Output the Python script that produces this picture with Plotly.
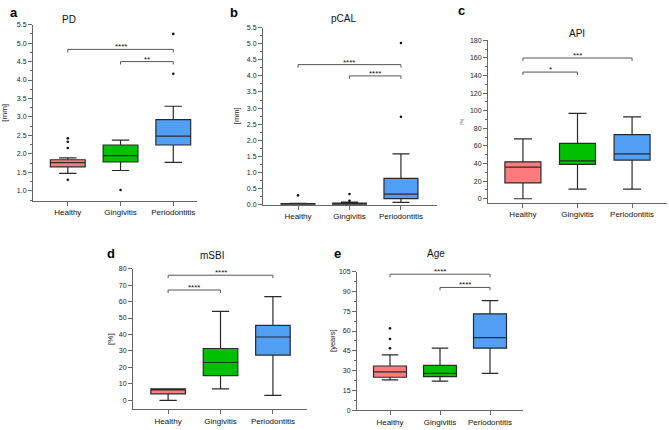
import plotly.graph_objects as go

W, H = 669, 430
CATS = ["Healthy", "Gingivitis", "Periodontitis"]
COLORS = ["#FF7C7C", "#00C000", "#519EF5"]

# Panel a: PD
PD_LOW = [1.47, 1.55, 1.77]
PD_Q1 = [1.65, 1.78, 2.24]
PD_MED = [1.76, 1.95, 2.48]
PD_Q3 = [1.84, 2.24, 2.93]
PD_HIGH = [1.89, 2.37, 3.29]
PD_OUT_X = ["Healthy", "Healthy", "Healthy", "Healthy", "Gingivitis", "Periodontitis", "Periodontitis"]
PD_OUT_Y = [2.42, 2.33, 2.16, 1.30, 1.02, 4.17, 5.25]
PD_BR = [(0, 2, 4.83, "****"), (1, 2, 4.5, "**")]

# Panel b: pCAL
CAL_LOW = [0.0, 0.0, 0.07]
CAL_Q1 = [0.0, 0.01, 0.19]
CAL_MED = [0.01, 0.02, 0.33]
CAL_Q3 = [0.03, 0.05, 0.82]
CAL_HIGH = [0.04, 0.08, 1.58]
CAL_OUT_X = ["Healthy", "Gingivitis", "Gingivitis", "Periodontitis", "Periodontitis"]
CAL_OUT_Y = [0.29, 0.33, 0.12, 2.73, 5.02]
CAL_BR = [(0, 2, 4.35, "****"), (1, 2, 4.0, "****")]

# Panel c: API
API_LOW = [0, 11, 11]
API_Q1 = [18, 39, 44]
API_MED = [36, 43, 51]
API_Q3 = [42, 63, 73]
API_HIGH = [68, 97, 93]
API_BR = [(0, 2, 160, "***"), (0, 1, 144, "*")]

# Panel d: mSBI
SBI_LOW = [0, 7, 3]
SBI_Q1 = [4, 15, 27.5]
SBI_MED = [6.9, 23, 38.5]
SBI_Q3 = [7, 31.5, 45.5]
SBI_HIGH = [7, 54, 63]
SBI_BR = [(0, 2, 76, "****"), (0, 1, 67, "****")]

# Panel e: Age
AGE_LOW = [23, 22, 28]
AGE_Q1 = [25, 25.5, 47]
AGE_MED = [29, 28, 55]
AGE_Q3 = [33.5, 34, 73]
AGE_HIGH = [42, 47, 83]
AGE_OUT_X = ["Healthy", "Healthy", "Healthy"]
AGE_OUT_Y = [47, 54, 62]
AGE_BR = [(0, 2, 103, "****"), (1, 2, 93, "****")]

FONT = "Liberation Sans, Arial, sans-serif"

panels = [
    dict(n=1, title="PD", letter="a", ylab="[mm]",
         low=PD_LOW, q1=PD_Q1, med=PD_MED, q3=PD_Q3, high=PD_HIGH,
         ox=PD_OUT_X, oy=PD_OUT_Y, br=PD_BR,
         px=(33, 197), py=(21, 200), yr=(0.73, 5.5), dtick=0.5, minor=0.25,
         fmt=".1f", title_xy=(69, 16), letter_xy=(8, 9), ylab_x=5, ylab_fs=8, xr=(-0.66, 2.45)),
    dict(n=2, title="pCAL", letter="b", ylab="[mm]",
         low=CAL_LOW, q1=CAL_Q1, med=CAL_MED, q3=CAL_Q3, high=CAL_HIGH,
         ox=CAL_OUT_X, oy=CAL_OUT_Y, br=CAL_BR,
         px=(263, 437), py=(24, 204), yr=(0, 5.5), dtick=0.5, minor=0.25,
         fmt=".1f", title_xy=(343, 15), letter_xy=(228, 9), ylab_x=236, ylab_fs=7.5, xr=(-0.68, 2.7)),
    dict(n=3, title="API", letter="c", ylab="[%]",
         low=API_LOW, q1=API_Q1, med=API_MED, q3=API_Q3, high=API_HIGH,
         ox=[], oy=[], br=API_BR,
         px=(488, 667), py=(37, 202), yr=(-4.5, 180), dtick=20, minor=10,
         fmt="d", title_xy=(577, 30), letter_xy=(456, 7), ylab_x=462, ylab_fs=4, xr=(-0.64, 2.64)),
    dict(n=4, title="mSBI", letter="d", ylab="[%]",
         low=SBI_LOW, q1=SBI_Q1, med=SBI_MED, q3=SBI_Q3, high=SBI_HIGH,
         ox=[], oy=[], br=SBI_BR,
         px=(133, 307), py=(269, 412), yr=(-5.4, 80), dtick=10, minor=None,
         fmt="d", title_xy=(212, 256), letter_xy=(105, 254), ylab_x=111, ylab_fs=8, xr=(-0.67, 2.65)),
    dict(n=5, title="Age", letter="e", ylab="[years]",
         low=AGE_LOW, q1=AGE_Q1, med=AGE_MED, q3=AGE_Q3, high=AGE_HIGH,
         ox=AGE_OUT_X, oy=AGE_OUT_Y, br=AGE_BR,
         px=(357, 523), py=(272, 413), yr=(0, 105), dtick=15, minor=7.5,
         fmt="d", title_xy=(436, 254), letter_xy=(332, 254), ylab_x=333, ylab_fs=7.5, xr=(-0.66, 2.66)),
]

fig = go.Figure()
shapes = []
annotations = []
layout = {}

for p in panels:
    n = p["n"]
    xa, ya = f"x{n}", f"y{n}"
    for i, c in enumerate(CATS):
        fig.add_trace(go.Box(
            x=[c], q1=[p["q1"][i]], median=[p["med"][i]], q3=[p["q3"][i]],
            lowerfence=[p["low"][i]], upperfence=[p["high"][i]],
            fillcolor=COLORS[i], line=dict(color="#2a2a2a", width=1.2),
            width=0.66, whiskerwidth=0.5, boxpoints=False, showlegend=False,
            xaxis=xa, yaxis=ya, hoverinfo="skip"))
    if p["ox"]:
        fig.add_trace(go.Scatter(x=p["ox"], y=p["oy"], mode="markers",
                                 marker=dict(size=2.6, color="#111"),
                                 showlegend=False, xaxis=xa, yaxis=ya, cliponaxis=False))
    x0, x1 = p["px"]
    ytop, ybot = p["py"]
    layout[f"xaxis{n}"] = dict(
        domain=[x0 / W, x1 / W], anchor=ya, type="category",
        categoryorder="array", categoryarray=CATS, range=list(p["xr"]),
        showline=True, linecolor="#666", linewidth=1, ticks="outside",
        ticklen=4, tickcolor="#666", showgrid=False, zeroline=False,
        tickfont=dict(size=8, color="#111", family=FONT), fixedrange=True)
    ydict = dict(
        domain=[1 - ybot / H, 1 - ytop / H], anchor=xa, range=list(p["yr"]),
        showline=True, linecolor="#666", linewidth=1, ticks="outside",
        ticklen=4, tickcolor="#666", showgrid=False, zeroline=False,
        tick0=0, dtick=p["dtick"], tickformat=p["fmt"],
        tickfont=dict(size=7, color="#222", family=FONT), fixedrange=True)
    if p["minor"]:
        ydict["minor"] = dict(ticks="outside", ticklen=2, tickcolor="#666", dtick=p["minor"], tick0=0)
    layout[f"yaxis{n}"] = ydict

    # brackets
    yspan = p["yr"][1] - p["yr"][0]
    drop = 3.0 * yspan / (ybot - ytop)
    for (a, b, yv, stars) in p["br"]:
        path = f"M {a},{yv - drop} L {a},{yv} L {b},{yv} L {b},{yv - drop}"
        shapes.append(dict(type="path", path=path, xref=xa, yref=ya,
                           line=dict(color="#555", width=1)))
        annotations.append(dict(x=(a + b) / 2, y=yv, xref=xa, yref=ya, text=stars,
                                showarrow=False, yanchor="bottom", yshift=-4,
                                font=dict(size=8, color="#111", family=FONT)))

    tx, ty = p["title_xy"]
    annotations.append(dict(x=tx / W, y=1 - ty / H, xref="paper", yref="paper",
                            text=p["title"], showarrow=False, xanchor="center", yanchor="middle",
                            font=dict(size=10, color="#111", family=FONT)))
    lx, ly = p["letter_xy"]
    annotations.append(dict(x=lx / W, y=1 - ly / H, xref="paper", yref="paper",
                            text=f"<b>{p['letter']}</b>", showarrow=False, xanchor="left", yanchor="middle",
                            font=dict(size=13, color="#000", family=FONT)))
    annotations.append(dict(x=p["ylab_x"] / W, y=1 - ((ytop + ybot) / 2) / H, xref="paper", yref="paper",
                            text=p["ylab"], showarrow=False, textangle=-90,
                            xanchor="center", yanchor="middle",
                            font=dict(size=p["ylab_fs"], color="#222", family=FONT)))

fig.update_layout(
    width=W, height=H, margin=dict(l=0, r=0, t=0, b=0),
    paper_bgcolor="white", plot_bgcolor="white",
    shapes=shapes, annotations=annotations, **layout)

fig.write_html("out.html")
